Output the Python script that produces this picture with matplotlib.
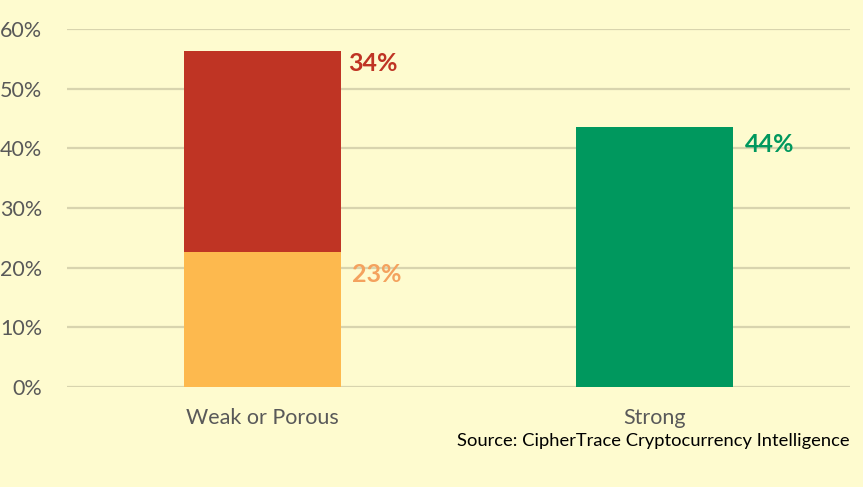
import matplotlib.pyplot as plt
import numpy as np

plt.rcParams['font.family'] = ['Lato', 'DejaVu Sans']

categories = ["Weak or Porous", "Strong"]
low_part = [22.6, 0.0]      # orange segment (weak)
high_part = [33.7, 0.0]     # red segment (weak)
strong_part = [0.0, 43.5]   # green bar
labels_low = "23%"
labels_high = "34%"
labels_strong = "44%"
yticks = [0, 10, 20, 30, 40, 50, 60]

bg = "#FEFBCF"
c_orange = "#FDB94E"
c_red = "#BF3424"
c_green = "#00985E"

fig = plt.figure(figsize=(8.63, 4.87), dpi=100, facecolor=bg)
ax = fig.add_axes([0.0776, 0.2053, 0.9074, 0.7352], facecolor=bg)

x = np.arange(len(categories))
w = 0.4
ax.bar(x, low_part, w, color=c_orange, zorder=3)
ax.bar(x, high_part, w, bottom=low_part, color=c_red, zorder=3)
ax.bar(x, strong_part, w, color=c_green, zorder=3)

ax.set_xlim(-0.5, 1.5)
ax.set_ylim(0, 60)
ax.set_yticks(yticks)
ax.set_yticklabels([f"{t}%" for t in yticks])
ax.yaxis.grid(True, color="#D8D4AE", linewidth=1.6, zorder=0)
ax.set_axisbelow(True)
for s in ax.spines.values():
    s.set_visible(False)
ax.tick_params(axis='both', length=0, labelsize=15.5, labelcolor="#595959")
ax.tick_params(axis='y', pad=18)
ax.tick_params(axis='x', pad=15)
ax.set_xticks(x)
ax.set_xticklabels(categories)

# data labels
ax.annotate(labels_high, (x[0] + w / 2, low_part[0] + high_part[0]), xytext=(5, -1),
            textcoords='offset points', ha='left', va='top', color=c_red,
            fontsize=18, fontweight='bold')
ax.annotate(labels_low, (x[0] + w / 2, low_part[0]), xytext=(8, -8),
            textcoords='offset points', ha='left', va='top', color="#F4A25E",
            fontsize=18, fontweight='bold')
ax.annotate(labels_strong, (x[1] + w / 2, strong_part[1]), xytext=(9, -4),
            textcoords='offset points', ha='left', va='top', color=c_green,
            fontsize=18, fontweight='bold')

fig.text(0.985, 0.094, "Source: CipherTrace Cryptocurrency Intelligence",
         ha='right', va='center', fontsize=13.2, color="black")

fig.savefig("out.png", facecolor=bg)
